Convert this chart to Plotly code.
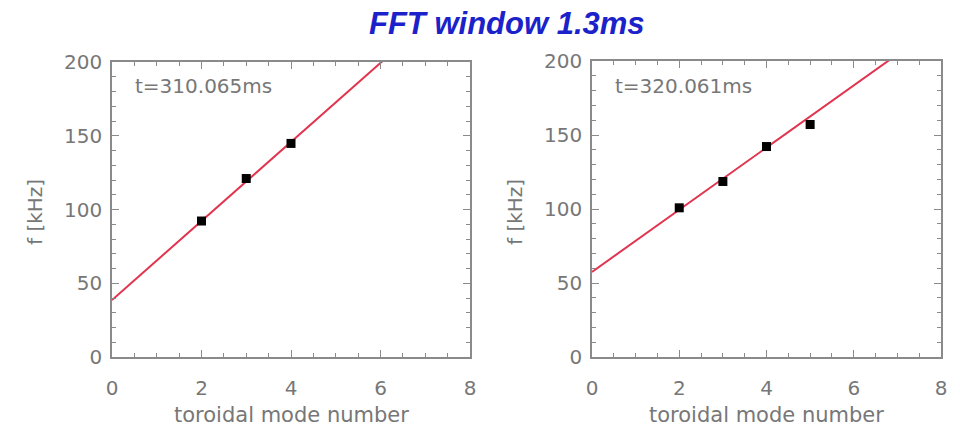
import plotly.graph_objects as go

# Measured frequencies of the toroidal modes at two time slices
modes_a = [2, 3, 4]
freq_a = [92.2, 121.0, 144.8]
modes_b = [2, 3, 4, 5]
freq_b = [100.8, 118.6, 142.2, 157.1]

# Linear dispersion fits: f = intercept + slope * n
fit_a = {"intercept": 38.6, "slope": 26.8}
fit_b = {"intercept": 57.5, "slope": 21.0}

times = ["t=310.065ms", "t=320.061ms"]
x_ticks = [0, 2, 4, 6, 8]
y_ticks = [0, 50, 100, 150, 200]

W, H = 960, 427
GREY = "#8a8a8a"
TXT = "#777777"
FONT = "DejaVu Sans"

# panel boxes in pixels: (left, right, top, bottom)
boxes = [(112, 470, 62, 357), (592, 941, 61, 357)]

fig = go.Figure()

panels = [(modes_a, freq_a, fit_a), (modes_b, freq_b, fit_b)]
for i, (mx, fy, fit) in enumerate(panels):
    xa = "x" if i == 0 else "x2"
    ya = "y" if i == 0 else "y2"
    line_x = [x_ticks[0], x_ticks[-1]]
    line_y = [fit["intercept"] + fit["slope"] * v for v in line_x]
    fig.add_trace(go.Scatter(
        x=line_x, y=line_y, mode="lines",
        line=dict(color="#e0344f", width=2),
        xaxis=xa, yaxis=ya, showlegend=False, hoverinfo="skip"))
    fig.add_trace(go.Scatter(
        x=mx, y=fy, mode="markers",
        marker=dict(symbol="square", size=9, color="black"),
        xaxis=xa, yaxis=ya, showlegend=False))

def axis_common():
    return dict(
        showline=True, linecolor=GREY, linewidth=1.5, mirror="allticks",
        ticks="inside", ticklen=7, tickcolor=GREY, tickwidth=1.2,
        showgrid=False, zeroline=False, automargin=False,
        tickfont=dict(family=FONT, size=20, color=TXT),
    )

layout = dict(
    width=W, height=H, margin=dict(l=0, r=0, t=0, b=0, autoexpand=False),
    paper_bgcolor="white", plot_bgcolor="white", showlegend=False,
)

for i, (l, r, t, b) in enumerate(boxes):
    sfx = "" if i == 0 else "2"
    xaxis = axis_common()
    xaxis.update(
        domain=[l / W, r / W], range=[0, 8], tickvals=x_ticks,
        anchor="y" + sfx, ticklabelstandoff=12,
        minor=dict(dtick=0.5, ticks="inside", ticklen=4, tickcolor=GREY, tickwidth=1.2),
    )
    yaxis = axis_common()
    yaxis.update(
        domain=[1 - b / H, 1 - t / H], range=[0, 200], tickvals=y_ticks,
        anchor="x" + sfx, ticklabelstandoff=4,
        minor=dict(dtick=10, ticks="inside", ticklen=4, tickcolor=GREY, tickwidth=1.2),
    )
    layout["xaxis" + sfx] = xaxis
    layout["yaxis" + sfx] = yaxis

fig.update_layout(**layout)


def label(text, px, py, size, color=TXT, family=FONT, angle=0, xanchor="center"):
    return dict(text=text, x=px / W, y=1 - py / H, xref="paper", yref="paper",
                xanchor=xanchor, yanchor="middle", showarrow=False, textangle=angle,
                font=dict(family=family, size=size, color=color))


annotations = [
    label("<b><i>FFT window 1.3ms</i></b>", 507, 24, 31,
          color="#1c22c9", family="Liberation Sans"),
]
for i, (l, r, t, b) in enumerate(boxes):
    annotations.append(label(times[i], l + 21, 86, 20, xanchor="left"))
    annotations.append(label("toroidal mode number", (l + r) / 2, 415, 21))
    annotations.append(label("f [kHz]", l - 77, 212, 20, angle=-90))

fig.update_layout(annotations=annotations)

fig.write_html("out.html")
